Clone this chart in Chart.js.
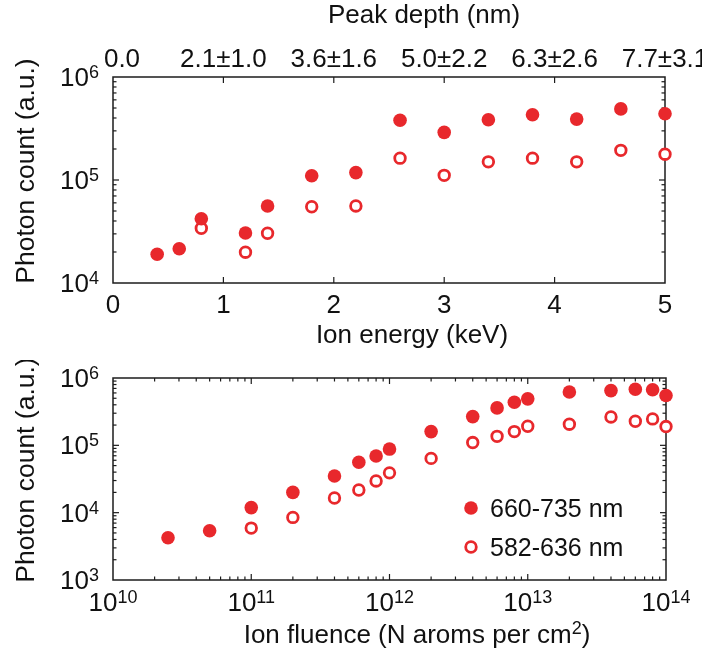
<!DOCTYPE html>
<html lang="en">
<head>
<meta charset="UTF-8" />
<title>Photon count vs ion energy and fluence</title>
<script src="https://cdn.jsdelivr.net/npm/chart.js"></script>
<style>
  body { margin: 0; background: #fff; }
  .wrap { position: relative; width: 702px; height: 655px; }
  canvas { position: absolute; left: 0; }
  #energyChart { top: 0; }
  #fluenceChart { top: 360px; }
</style>
</head>
<body>
<div class="wrap">
  <canvas id="energyChart" width="702" height="360"></canvas>
  <canvas id="fluenceChart" width="702" height="295"></canvas>
</div>
<script>
// --- top panel: photon count vs ion energy ---
const energyX = [0.4, 0.6, 0.8, 1.2, 1.4, 1.8, 2.2, 2.6, 3.0, 3.4, 3.8, 4.2, 4.6, 5.0];
const energyRed = [1.9e4, 2.15e4, 4.2e4, 3.06e4, 5.6e4, 1.1e5, 1.18e5, 3.8e5, 2.9e5, 3.85e5, 4.3e5, 3.9e5, 4.9e5, 4.4e5];
const energyOpenX = [0.8, 1.2, 1.4, 1.8, 2.2, 2.6, 3.0, 3.4, 3.8, 4.2, 4.6, 5.0];
const energyOrange = [3.4e4, 1.99e4, 3.04e4, 5.5e4, 5.6e4, 1.63e5, 1.11e5, 1.5e5, 1.63e5, 1.5e5, 1.94e5, 1.78e5];
const energyTicks = [0, 1, 2, 3, 4, 5];
const depthLabels = ["0.0", "2.1±1.0", "3.6±1.6", "5.0±2.2", "6.3±2.6", "7.7±3.1"];
const energyYExp = [4, 5, 6];

// --- bottom panel: photon count vs ion fluence ---
const fluenceX = [2.5e10, 5e10, 1e11, 2e11, 4e11, 6e11, 8e11, 1e12, 2e12, 4e12, 6e12, 8e12, 1e13, 2e13, 4e13, 6e13, 8e13, 1e14];
const fluenceRed = [4.25e3, 5.4e3, 1.19e4, 2.0e4, 3.5e4, 5.6e4, 6.95e4, 8.8e4, 1.6e5, 2.67e5, 3.6e5, 4.37e5, 4.9e5, 6.2e5, 6.5e5, 6.8e5, 6.7e5, 5.5e5];
const fluenceOpenX = [1e11, 2e11, 4e11, 6e11, 8e11, 1e12, 2e12, 4e12, 6e12, 8e12, 1e13, 2e13, 4e13, 6e13, 8e13, 1e14];
const fluenceOrange = [5.9e3, 8.5e3, 1.65e4, 2.17e4, 2.96e4, 3.9e4, 6.4e4, 1.1e5, 1.36e5, 1.6e5, 1.92e5, 2.06e5, 2.64e5, 2.28e5, 2.47e5, 1.9e5];
const fluenceXExp = [10, 11, 12, 13, 14];
const fluenceYExp = [3, 4, 5, 6];

const legendNames = ["660-735 nm", "582-636 nm"];

const RED = "#e8282c";
const INK = "#1c1c1c";
const FONT = '"Liberation Sans", Arial, sans-serif';

function pts(xs, ys) {
    return xs.map((x, i) => ({ x, y: ys[i] }));
}

function filledSet(data) {
    return { data, pointRadius: 6.8, pointHoverRadius: 6.8, backgroundColor: RED, borderWidth: 0, clip: false };
}

function openSet(data) {
    return { data, pointRadius: 5.3, pointHoverRadius: 5.3, backgroundColor: "#fff", borderColor: RED, borderWidth: 2.8, clip: false };
}

// minor/major log ticks between two exponents
function logTicks(e0, e1) {
    const out = [];
    for (let e = e0; e < e1; e++) {
        for (let m = 2; m <= 9; m++) out.push([m * Math.pow(10, e), 3.5]);
        if (e > e0) out.push([Math.pow(10, e), 6]);
    }
    return out;
}

function line(ctx, x1, y1, x2, y2) {
    ctx.beginPath();
    ctx.moveTo(x1, y1);
    ctx.lineTo(x2, y2);
    ctx.stroke();
}

function pow10(ctx, exp, x, baseY, align) {
    ctx.font = `26px ${FONT}`;
    const w1 = ctx.measureText("10").width;
    ctx.font = `18px ${FONT}`;
    const w2 = ctx.measureText(String(exp)).width;
    const x0 = align === "right" ? x - w1 - w2 : x - (w1 + w2) / 2;
    ctx.textAlign = "left";
    ctx.font = `26px ${FONT}`;
    ctx.fillText("10", x0, baseY);
    ctx.font = `18px ${FONT}`;
    ctx.fillText(String(exp), x0 + w1, baseY - 8);
}

function yTitle(ctx, a) {
    ctx.save();
    ctx.translate(34, (a.top + a.bottom) / 2 - 9);
    ctx.rotate(-Math.PI / 2);
    ctx.font = `26.5px ${FONT}`;
    ctx.textAlign = "center";
    ctx.fillText("Photon count (a.u.)", 0, 0);
    ctx.restore();
}

// draws the box with inward ticks under the points, labels on top
function framePlugin(cfg) {
    return {
        id: "frame",
        beforeDatasetsDraw(chart) {
            const { ctx, chartArea: a, scales: { x, y } } = chart;
            ctx.save();
            ctx.strokeStyle = INK;
            ctx.lineWidth = 1.5;
            ctx.strokeRect(a.left, a.top, a.right - a.left, a.bottom - a.top);
            ctx.lineWidth = 1.2;
            cfg.xTicks.forEach(([v, len]) => {
                const px = x.getPixelForValue(v);
                line(ctx, px, a.bottom, px, a.bottom - len);
                line(ctx, px, a.top, px, a.top + len);
            });
            cfg.yTicks.forEach(([v, len]) => {
                const py = y.getPixelForValue(v);
                line(ctx, a.left, py, a.left + len, py);
                line(ctx, a.right, py, a.right - len, py);
            });
            ctx.restore();
        },
        afterDraw(chart) {
            const { ctx, chartArea: a } = chart;
            ctx.save();
            ctx.fillStyle = "#111";
            cfg.labels(ctx, chart, a);
            yTitle(ctx, a);
            ctx.restore();
        }
    };
}

function baseOptions(padding, xScale, yScale) {
    return {
        responsive: false,
        animation: false,
        events: [],
        layout: { padding },
        plugins: { legend: { display: false }, tooltip: { enabled: false } },
        scales: { x: xScale, y: yScale }
    };
}

// top chart
new Chart(document.getElementById("energyChart"), {
    type: "scatter",
    data: {
        datasets: [
            filledSet(pts(energyX, energyRed)),
            openSet(pts(energyOpenX, energyOrange))
        ]
    },
    options: baseOptions(
        { left: 113, right: 37, top: 77, bottom: 77 },
        { type: "linear", min: 0, max: 5, display: false },
        { type: "logarithmic", min: 1e4, max: 1e6, display: false }
    ),
    plugins: [framePlugin({
        xTicks: [1, 2, 3, 4].map(v => [v, 6]),
        yTicks: logTicks(4, 6),
        labels(ctx, chart, a) {
            const { x, y } = chart.scales;
            ctx.font = `26px ${FONT}`;
            ctx.textAlign = "center";
            energyTicks.forEach(v => {
                ctx.fillText(String(v), x.getPixelForValue(v), a.bottom + 30);
            });
            depthLabels.forEach((s, i) => {
                ctx.fillText(s, x.getPixelForValue(energyTicks[i]) + (i === 0 ? 9 : 0), a.top - 10);
            });
            energyYExp.forEach(e => pow10(ctx, e, a.left - 14, y.getPixelForValue(Math.pow(10, e)) + 9, "right"));
            ctx.textAlign = "center";
            ctx.font = `26px ${FONT}`;
            ctx.fillText("Peak depth (nm)", a.left + 311, 23);
            ctx.fillText("Ion energy (keV)", a.left + 299, a.bottom + 60);
        }
    })]
});

// bottom chart
new Chart(document.getElementById("fluenceChart"), {
    type: "scatter",
    data: {
        datasets: [
            filledSet(pts(fluenceX, fluenceRed)),
            openSet(pts(fluenceOpenX, fluenceOrange))
        ]
    },
    options: baseOptions(
        { left: 113, right: 36, top: 18, bottom: 75 },
        { type: "logarithmic", min: 1e10, max: 1e14, display: false },
        { type: "logarithmic", min: 1e3, max: 1e6, display: false }
    ),
    plugins: [framePlugin({
        xTicks: logTicks(10, 14),
        yTicks: logTicks(3, 6),
        labels(ctx, chart, a) {
            const { x, y } = chart.scales;
            fluenceXExp.forEach(e => pow10(ctx, e, x.getPixelForValue(Math.pow(10, e)), a.bottom + 31, "center"));
            fluenceYExp.forEach(e => pow10(ctx, e, a.left - 14, y.getPixelForValue(Math.pow(10, e)) + 9, "right"));

            // axis title with superscript
            const t1 = "Ion fluence (N aroms per cm", t2 = "2", t3 = ")";
            ctx.font = `26px ${FONT}`;
            const w1 = ctx.measureText(t1).width, w3 = ctx.measureText(t3).width;
            ctx.font = `18px ${FONT}`;
            const w2 = ctx.measureText(t2).width;
            let tx = a.left + 304 - (w1 + w2 + w3) / 2;
            const ty = a.bottom + 63;
            ctx.textAlign = "left";
            ctx.font = `26px ${FONT}`;
            ctx.fillText(t1, tx, ty);
            ctx.font = `18px ${FONT}`;
            ctx.fillText(t2, tx + w1, ty - 9);
            ctx.font = `26px ${FONT}`;
            ctx.fillText(t3, tx + w1 + w2, ty);

            // legend
            const lx = a.left + 358;
            [a.top + 130, a.top + 169].forEach((ly, i) => {
                ctx.beginPath();
                if (i === 0) {
                    ctx.arc(lx, ly, 6.8, 0, Math.PI * 2);
                    ctx.fillStyle = RED;
                    ctx.fill();
                } else {
                    ctx.arc(lx, ly, 5.3, 0, Math.PI * 2);
                    ctx.fillStyle = "#fff";
                    ctx.fill();
                    ctx.lineWidth = 2.8;
                    ctx.strokeStyle = RED;
                    ctx.stroke();
                }
                ctx.fillStyle = "#111";
                ctx.font = `25px ${FONT}`;
                ctx.fillText(legendNames[i], lx + 19, ly + 9);
            });
        }
    })]
});
</script>
</body>
</html>
